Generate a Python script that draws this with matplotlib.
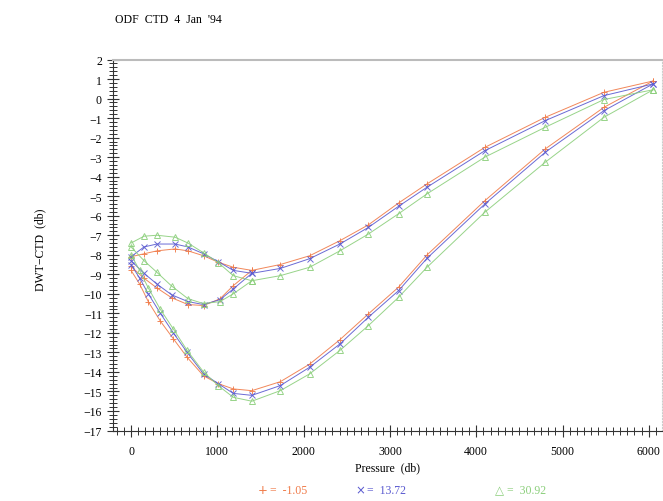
import matplotlib
matplotlib.use("Agg")
import matplotlib.pyplot as plt
from matplotlib.ticker import MultipleLocator

plt.rcParams['font.family'] = ['Liberation Serif', 'DejaVu Sans']

# pressure levels (db) for the three branches
p_upper = [0, 150, 300, 510, 660, 840, 1010, 1185, 1400, 1730, 2070, 2420, 2750,
           3100, 3430, 4100, 4800, 5480, 6050]
p_mid = [0, 150, 300, 470, 660, 840, 1030, 1185, 1400]
p_lower = [0, 100, 200, 340, 490, 650, 840, 1010, 1185, 1400, 1730, 2070, 2420,
           2750, 3100, 3430, 4100, 4800, 5480, 6050]

# DWT-CTD (db), one set per temperature
up_m105 = [-8.1, -7.95, -7.8, -7.7, -7.8, -8.05, -8.38, -8.64, -8.8, -8.5, -8.05,
           -7.28, -6.47, -5.35, -4.37, -2.5, -0.96, 0.32, 0.9]
up_1372 = [-8.1, -7.6, -7.45, -7.45, -7.6, -7.95, -8.35, -8.8, -8.95, -8.7, -8.2,
           -7.45, -6.6, -5.52, -4.54, -2.67, -1.13, 0.15, 0.75]
up_3092 = [-7.4, -7.05, -7.0, -7.1, -7.4, -7.9, -8.4, -9.07, -9.33, -9.07, -8.64,
           -7.8, -6.94, -5.9, -4.88, -3.0, -1.47, -0.05, 0.45]

mid_m105 = [-8.6, -9.2, -9.7, -10.2, -10.55, -10.6, -10.26, -9.58, -8.8]
mid_1372 = [-8.3, -8.95, -9.5, -10.05, -10.4, -10.55, -10.3, -9.75, -8.95]
mid_3092 = [-7.6, -8.3, -8.9, -9.6, -10.25, -10.5, -10.4, -10.0, -9.33]

low_m105 = [-8.8, -9.5, -10.4, -11.4, -12.3, -13.25, -14.2, -14.6, -14.87, -14.96,
            -14.5, -13.6, -12.35, -11.03, -9.66, -8.01, -5.23, -2.58, -0.45, 0.9]
low_1372 = [-8.5, -9.2, -10.0, -11.0, -12.0, -13.0, -14.1, -14.6, -15.1, -15.2,
            -14.7, -13.76, -12.57, -11.2, -9.84, -8.18, -5.4, -2.75, -0.62, 0.75]
low_3092 = [-8.0, -8.8, -9.7, -10.8, -11.8, -12.9, -14.0, -14.7, -15.3, -15.5,
            -14.96, -14.1, -12.9, -11.63, -10.18, -8.64, -5.82, -3.26, -0.96, 0.45]

temps = ['-1.05', '13.72', '30.92']
symbols = ['+', '\u00d7', '\u25b3']
colors = ['#f07a48', '#5a5ad0', '#8ccf7c']
markers = ['+', 'x', '^']

fig = plt.figure(figsize=(6.63, 5.02), dpi=100)
ax = fig.add_axes([113 / 663, 70.5 / 502, 549 / 663, 371 / 502])

series = [(up_m105, mid_m105, low_m105), (up_1372, mid_1372, low_1372),
          (up_3092, mid_3092, low_3092)]
for (up, mid, low), c, m in zip(series, colors, markers):
    kw = dict(color=c, lw=0.7, marker=m, ms=4.5, mew=0.7, alpha=0.9)
    if m == '^':
        kw['mfc'] = 'none'
    ax.plot(p_upper, up, **kw)
    ax.plot(p_mid, mid, **kw)
    ax.plot(p_lower, low, **kw)

ax.set_xlim(-209, 6153)
ax.set_ylim(-17, 2)
ax.xaxis.set_major_locator(MultipleLocator(1000))
ax.xaxis.set_minor_locator(MultipleLocator(1000 / 12))
ax.yaxis.set_major_locator(MultipleLocator(1))
ax.yaxis.set_minor_locator(MultipleLocator(0.2))
ax.tick_params(which='major', direction='inout', length=9, width=0.8,
               labelsize=8.5, color='#333333')
ax.tick_params(which='minor', direction='inout', length=6, width=0.7,
               color='#333333')
ax.tick_params(axis='x', pad=6)

ax.spines['top'].set_color('#bbbbbb')
ax.spines['top'].set_linewidth(1.5)
ax.spines['right'].set_color('#cccccc')
ax.spines['right'].set_linestyle(':')
ax.spines['left'].set_color('#333333')
ax.spines['bottom'].set_color('#333333')

ax.set_xlabel('Pressure  (db)', fontsize=8.5, labelpad=3)
fig.text(40 / 663, 1 - 250 / 502, 'DWT\u2212CTD  (db)', rotation=90,
         ha='center', va='center', fontsize=8.5)
fig.text(115 / 663, 1 - 20 / 502, "ODF  CTD  4  Jan  '94", ha='left',
         va='center', fontsize=8.5)

# legend row: symbol and value drawn as separate texts on one baseline
leg_x = [258, 355, 495]
base_y = 1 - 494 / 502
for x, s, t, c in zip(leg_x, symbols, temps, colors):
    fig.text(x / 663, base_y, s, color=c, ha='left', va='baseline',
             fontsize=8.5, family='DejaVu Sans')
    fig.text((x + 12) / 663, base_y, '=  ' + t, color=c, ha='left',
             va='baseline', fontsize=8.5)

fig.savefig('out.png', dpi=100)
